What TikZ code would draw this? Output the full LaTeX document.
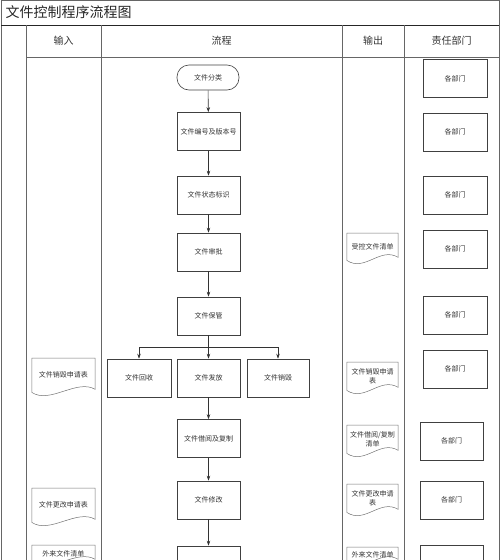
\documentclass[tikz,border=0pt]{standalone}
\usepackage{fontspec}
\newfontfamily\cjk{Noto Sans CJK SC}
\usetikzlibrary{arrows.meta,calc}

\begin{document}
\begin{tikzpicture}[
    x=1pt, y=-1pt,
    >={Stealth[length=5pt, width=3.5pt]},
    grid/.style={draw=black!60, line width=0.6pt},
    flow/.style={->, draw=black!80, line width=0.6pt},
    box/.style={rectangle, draw=black!75, line width=0.6pt, minimum width=63pt, minimum height=38pt, inner sep=1pt, text=black!80, font=\cjk\fontsize{7pt}{8.5pt}\selectfont},
    term/.style={box, minimum width=62pt, minimum height=25pt, rounded corners=12pt},
    dept/.style={box, minimum width=64pt},
    doc/.style={anchor=north, align=center, inner sep=2pt, text=black!80, font=\cjk\fontsize{7pt}{8.5pt}\selectfont,
        append after command={\pgfextra{\draw[draw=black!55, line width=0.5pt] (\tikzlastnode.south west) -- (\tikzlastnode.north west) -- (\tikzlastnode.north east) -- ($(\tikzlastnode.south east)+(0,-3)$) .. controls +(-18,-11) and +(18,12) .. (\tikzlastnode.south west);}}},
    indoc/.style={doc, text width=59pt, minimum height=34pt},
    outdoc/.style={doc, text width=47pt, minimum height=28pt},
    head/.style={text=black!80, font=\cjk\fontsize{10pt}{12pt}\selectfont}
]
    \useasboundingbox (0,0) rectangle (500,560);
    \clip (0,0) rectangle (500,560);

    % 表格框线
    \draw[grid] (1,575) -- (1,0.5) -- (499,0.5) -- (499,575);
    \draw[black!85, line width=1pt] (1,25) -- (499,25);
    \draw[grid] (26,25) -- (26,575);
    \draw[grid] (101,25) -- (101,575);
    \draw[grid] (342,25) -- (342,575);
    \draw[grid] (404,25) -- (404,575);
    \draw[grid] (26,57) -- (499,57);

    % 标题与表头
    \node[anchor=west, text=black!85, font=\cjk\fontsize{14pt}{16pt}\selectfont] (title) at (2,12.5) {文件控制程序流程图};
    \node[head] (hin)   at (63.5,41)  {输入};
    \node[head] (hflow) at (221.5,41) {流程};
    \node[head] (hout)  at (373,41)   {输出};
    \node[head] (hdept) at (451.5,41) {责任部门};

    % 流程节点
    \node[term] (fenlei)    at (208,77.5)  {文件分类};
    \node[box]  (bianhao)   at (208.5,131.5) {文件编号及版本号};
    \node[box]  (zhuangtai) at (208.5,195) {文件状态标识};
    \node[box]  (shenpi)    at (208.5,252) {文件审批};
    \node[box]  (baoguan)   at (208.5,316) {文件保管};
    \node[box, minimum width=64pt] (huishou) at (139,378) {文件回收};
    \node[box]  (fafang)    at (208.5,378) {文件发放};
    \node[box, minimum width=62pt] (xiaohui) at (278,378) {文件销毁};
    \node[box]  (jieyue)    at (208.5,438.5) {文件借阅及复制};
    \node[box]  (xiugai)    at (208.5,500) {文件修改};
    \node[box]  (xiayibu)   at (208.5,565) {};
    \coordinate (fz) at (208.5,347);   % 分支点

    % 输入文件
    \node[indoc] (in1) at (63.5,358) {文件销毁申请表};
    \node[indoc] (in2) at (63.5,488) {文件更改申请表};
    \node[indoc, minimum height=17pt] (in3) at (63.5,545) {外来文件清单};

    % 输出文件
    \node[outdoc, minimum height=27pt] (out1) at (372.5,233) {受控文件清单};
    \node[outdoc] (out2) at (372.5,362) {文件销毁申请\\表};
    \node[outdoc] (out3) at (372.5,425) {文件借阅/复制\\清单};
    \node[outdoc] (out4) at (372.5,484) {文件更改申请\\表};
    \node[outdoc, minimum height=15pt] (out5) at (372.5,547) {外来文件清单};

    % 责任部门
    \node[dept] (d1) at (455,78.5) {各部门};
    \node[dept] (d2) at (455,132)  {各部门};
    \node[dept] (d3) at (455,195)  {各部门};
    \node[dept] (d4) at (455,249)  {各部门};
    \node[dept] (d5) at (455,315)  {各部门};
    \node[dept] (d6) at (455,369)  {各部门};
    \node[box]  (d7) at (451.5,441) {各部门};
    \node[box]  (d8) at (451.5,500) {各部门};
    \node[box]  (d9) at (451.5,564) {};

    % 流程连线
    \draw[flow] (fenlei) -- (bianhao);
    \draw[flow] (bianhao) -- (zhuangtai);
    \draw[flow] (zhuangtai) -- (shenpi);
    \draw[flow] (shenpi) -- (baoguan);
    \draw[flow] (baoguan) -- (fafang);
    \draw[flow] (fz) -| (huishou);
    \draw[flow] (fz) -| (xiaohui);
    \draw[flow] (fafang) -- (jieyue);
    \draw[flow] (jieyue) -- (xiugai);
    \draw[flow] (xiugai) -- (xiayibu);

\end{tikzpicture}
\end{document}
